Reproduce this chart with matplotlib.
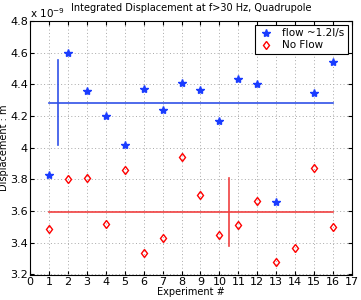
import matplotlib.pyplot as plt

# experiment numbers and displacement values (units of 1e-9 m)
exp_flow = [1, 2, 3, 4, 5, 6, 7, 8, 9, 10, 11, 12, 13, 15, 16]
disp_flow = [3.83, 4.60, 4.36, 4.20, 4.02, 4.37, 4.24, 4.41, 4.365, 4.17,
             4.435, 4.40, 3.66, 4.345, 4.54]

exp_noflow = list(range(1, 17))
disp_noflow = [3.49, 3.80, 3.81, 3.52, 3.86, 3.335, 3.43, 3.94, 3.70, 3.45,
               3.51, 3.665, 3.28, 3.37, 3.875, 3.50]

# mean and spread markers
flow_mean = 4.285
flow_lo, flow_hi = 4.02, 4.555
flow_bar_x = 1.5
noflow_mean = 3.595
noflow_lo, noflow_hi = 3.38, 3.81
noflow_bar_x = 10.5

scale = 1e-9

fig = plt.figure(figsize=(3.61, 3.0), dpi=100)
ax = fig.add_axes([30 / 361, 1 - 274.5 / 300, 322 / 361, 253.5 / 300])

ax.plot(exp_flow, [v * scale for v in disp_flow], '*', color='#1a3cff',
        markersize=6, label='flow ~1.2l/s', zorder=3)
ax.plot(exp_noflow, [v * scale for v in disp_noflow], 'd', color='red',
        markerfacecolor='none', markeredgewidth=1.0, markersize=4.5,
        label='No Flow', zorder=3)

ax.plot([1, 16], [flow_mean * scale] * 2, color='#3050e8', lw=1.2)
ax.plot([flow_bar_x] * 2, [flow_lo * scale, flow_hi * scale], color='#3050e8', lw=1.2)
ax.plot([1, 16], [noflow_mean * scale] * 2, color='#f04040', lw=1.2)
ax.plot([noflow_bar_x] * 2, [noflow_lo * scale, noflow_hi * scale], color='#f04040', lw=1.2)

ax.set_xlim(0, 17)
ax.set_ylim(3.2e-9, 4.8e-9)
ax.set_xticks(range(0, 18))
ax.set_yticks([v * 1e-9 for v in [3.2, 3.4, 3.6, 3.8, 4.0, 4.2, 4.4, 4.6, 4.8]])
ax.set_yticklabels(['3.2', '3.4', '3.6', '3.8', '4', '4.2', '4.4', '4.6', '4.8'])
ax.grid(True, linestyle=(0, (1, 2.5)), color='#a8a8a8', linewidth=0.7)
ax.tick_params(direction='in', top=True, right=True, labelsize=8, length=3, pad=1.5)
for s in ax.spines.values():
    s.set_linewidth(0.8)

ax.text(0, 1.005, r'x 10$^{-9}$', transform=ax.transAxes, fontsize=7.5,
        ha='left', va='bottom')
ax.set_title('Integrated Displacement at f>30 Hz, Quadrupole', fontsize=7, pad=7)
ax.set_xlabel('Experiment #', fontsize=7, labelpad=0)
ax.set_ylabel('Displacement : m', fontsize=7, labelpad=1)

leg = ax.legend(loc='upper right', fontsize=7.5, fancybox=False, framealpha=1,
                edgecolor='black', borderaxespad=0.4, handlelength=1.5,
                borderpad=0.3, labelspacing=0.2)
leg.get_frame().set_linewidth(0.8)

plt.savefig('out.png', dpi=100)
plt.close()
